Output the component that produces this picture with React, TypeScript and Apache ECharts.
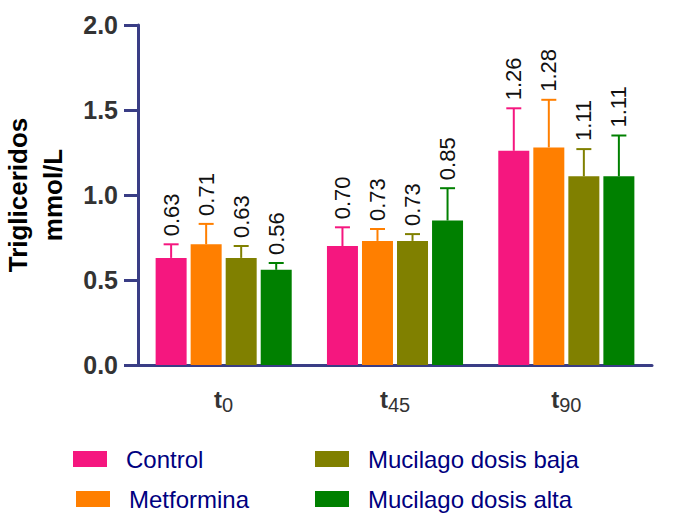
import React, { useEffect, useRef } from "react";
import * as echarts from "echarts";

const categories = ["t0", "t45", "t90"];
const seriesNames = ["Control", "Metformina", "Mucilago dosis baja", "Mucilago dosis alta"];
const colors = ["#F5177F", "#FF7F00", "#808000", "#008000"];
const controlMean = [0.63, 0.70, 1.26];
const metforminaMean = [0.71, 0.73, 1.28];
const bajaMean = [0.63, 0.73, 1.11];
const altaMean = [0.56, 0.85, 1.11];
const controlErr = [0.08, 0.11, 0.25];
const metforminaErr = [0.12, 0.07, 0.28];
const bajaErr = [0.07, 0.04, 0.16];
const altaErr = [0.04, 0.19, 0.24];
const yTicks = { min: 0, max: 2, interval: 0.5 };

const means = [controlMean, metforminaMean, bajaMean, altaMean];
const errs = [controlErr, metforminaErr, bajaErr, altaErr];

const FONT = "'Liberation Sans', Arial, Helvetica, sans-serif";
const AXIS_COLOR = "#3A3D85";
const BAR_W = 31;
const BAR_GAP_RATIO = 0.13;

export default function App() {
  const ref = useRef<HTMLDivElement>(null);
  useEffect(() => {
    if (!ref.current) return;
    const chart = echarts.init(ref.current, undefined, { renderer: "svg" });

    const barSeries = seriesNames.map((name, i) => ({
      type: "bar",
      name,
      data: means[i],
      barWidth: BAR_W,
      barGap: BAR_GAP_RATIO * 100 + "%",
      itemStyle: { color: colors[i] },
      z: 2,
    }));

    const errSeries = seriesNames.map((name, s) => ({
      type: "custom",
      name: "err-" + name,
      z: 3,
      data: means[s].map((m, c) => [c, m, m + errs[s][c]]),
      renderItem: (params: any, api: any) => {
        const c = api.value(0);
        const m = api.value(1);
        const top = api.value(2);
        const off = (s - 1.5) * (BAR_W * (1 + BAR_GAP_RATIO));
        const p0 = api.coord([c, m]);
        const p1 = api.coord([c, top]);
        const x = p0[0] + off;
        const st = { stroke: colors[s], lineWidth: 2 };
        return {
          type: "group",
          children: [
            { type: "line", shape: { x1: x, y1: p0[1], x2: x, y2: p1[1] }, style: st },
            { type: "line", shape: { x1: x - 7.5, y1: p1[1], x2: x + 7.5, y2: p1[1] }, style: st },
            {
              type: "text",
              x: x,
              y: p1[1] - 8,
              rotation: Math.PI / 2,
              style: {
                text: m.toFixed(2),
                fill: "#111",
                fontSize: 22,
                fontFamily: FONT,
                align: "left",
                verticalAlign: "middle",
              },
            },
          ],
        };
      },
    }));

    const legendBase = {
      icon: "rect",
      itemWidth: 34,
      itemHeight: 16,
      padding: 0,
      selectedMode: false,
      textStyle: { fontSize: 24, color: "#000080", fontFamily: FONT, padding: [0, 0, 0, 14] },
    };

    chart.setOption({
      animation: false,
      grid: { left: 138, right: 27, top: 25, bottom: 151, outerBoundsMode: "none", containLabel: false },
      legend: [
        { ...legendBase, data: [seriesNames[0]], left: 73, top: 447 },
        { ...legendBase, data: [seriesNames[1]], left: 76, top: 487 },
        { ...legendBase, data: [seriesNames[2]], left: 315, top: 447 },
        { ...legendBase, data: [seriesNames[3]], left: 315, top: 487 },
      ],
      xAxis: {
        type: "category",
        data: categories,
        axisLine: { lineStyle: { color: AXIS_COLOR, width: 3 } },
        axisTick: { alignWithLabel: true, length: 14, lineStyle: { color: AXIS_COLOR, width: 3 } },
        axisLabel: {
          margin: 22,
          formatter: (v: string) => "{t|t}{s|" + v.slice(1) + "}",
          rich: {
            t: { fontSize: 24, fontWeight: "bold", color: "#333", fontFamily: FONT, verticalAlign: "top", lineHeight: 22 },
            s: { fontSize: 20, color: "#333", fontFamily: FONT, verticalAlign: "top", padding: [8, 0, 0, 0], lineHeight: 22 },
          },
        },
      },
      yAxis: {
        type: "value",
        min: yTicks.min,
        max: yTicks.max,
        interval: yTicks.interval,
        name: "Trigliceridos\nmmol/L",
        nameLocation: "middle",
        nameGap: 68,
        nameTextStyle: { fontSize: 26, fontWeight: "bold", color: "#000", fontFamily: FONT, lineHeight: 35 },
        splitLine: { show: false },
        axisLine: { show: true, lineStyle: { color: AXIS_COLOR, width: 3 } },
        axisTick: { show: true, length: 14, lineStyle: { color: AXIS_COLOR, width: 3 } },
        axisLabel: {
          margin: 20,
          fontSize: 25,
          fontWeight: "bold",
          color: "#333",
          fontFamily: FONT,
          formatter: (v: number) => v.toFixed(1),
        },
      },
      series: [...barSeries, ...errSeries],
    });
    return () => chart.dispose();
  }, []);
  return <div ref={ref} style={{ width: 679, height: 516, position: "absolute", left: 0, top: 0 }} />;
}
